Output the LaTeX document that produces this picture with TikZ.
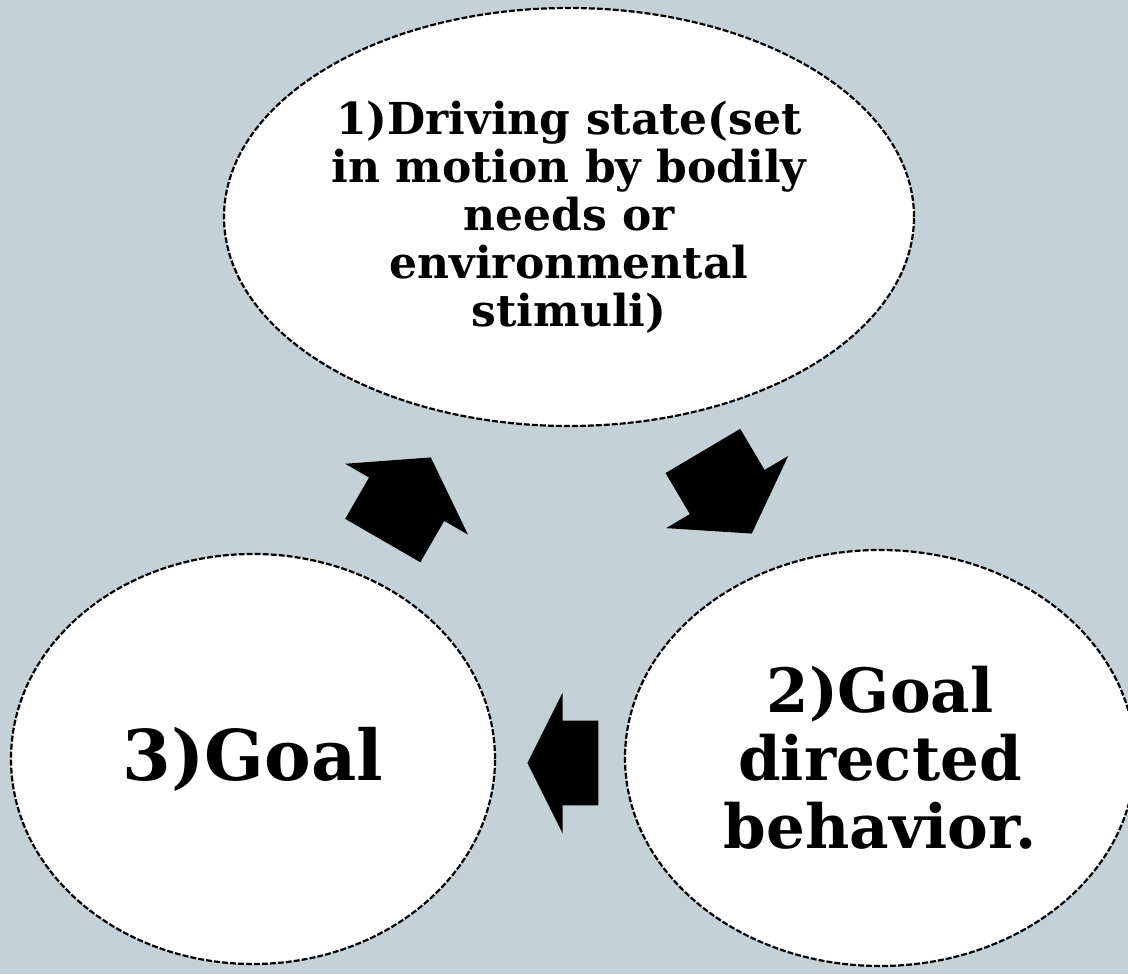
\documentclass[tikz,border=0pt]{standalone}
\usepackage{fontspec}
\setmainfont{DejaVu Serif}
\usetikzlibrary{shapes.geometric,shapes.arrows}
\definecolor{bgblue}{RGB}{197,209,216}

\begin{document}
\begin{tikzpicture}[x=0.5pt,y=0.5pt,
  stage/.style={draw, ellipse, fill=white, line width=1.1pt, dash pattern=on 3pt off 1pt, inner sep=0pt},
  stagetext/.style={align=center, text=black},
  blockarrow/.style={single arrow, fill=black, draw=none, inner xsep=0pt, anchor=tip}]
  \clip (0,0) rectangle (1128,974);
  \fill[bgblue] (0,0) rectangle (1128,974);

  % the three stages
  \node[stage, minimum width=345pt, minimum height=209pt] (drive) at (569,757) {};
  \node[stage, minimum width=255pt, minimum height=208pt] (behave) at (880,216) {};
  \node[stage, minimum width=242pt, minimum height=205pt] (goal) at (253,215) {};

  \node[stagetext, font=\bfseries\fontsize{22}{24}\selectfont] (drivetext) at (drive)
    {1)Driving state(set\\in motion by bodily\\needs or\\environmental\\stimuli)};
  \node[stagetext, font=\bfseries\fontsize{30.5}{34}\selectfont] (behavetext) at (behave)
    {2)Goal\\directed\\behavior.};
  \node[stagetext, font=\bfseries\fontsize{35}{40}\selectfont] (goaltext) at (goal) {3)Goal};

  % block arrows of the cycle
  \node[blockarrow, rotate=-59.4, minimum height=48pt, inner ysep=21.5pt,
    single arrow head extend=13.75pt, single arrow tip angle=111.5] (toBehave) at (752,440) {};
  \node[blockarrow, rotate=180, minimum height=35.5pt, inner ysep=21pt,
    single arrow head extend=14pt, single arrow tip angle=126.9] (toGoal) at (527,211) {};
  \node[blockarrow, rotate=60, minimum height=48pt, inner ysep=21.5pt,
    single arrow head extend=13.75pt, single arrow tip angle=111.5] (toDrive) at (431,517) {};
\end{tikzpicture}
\end{document}
